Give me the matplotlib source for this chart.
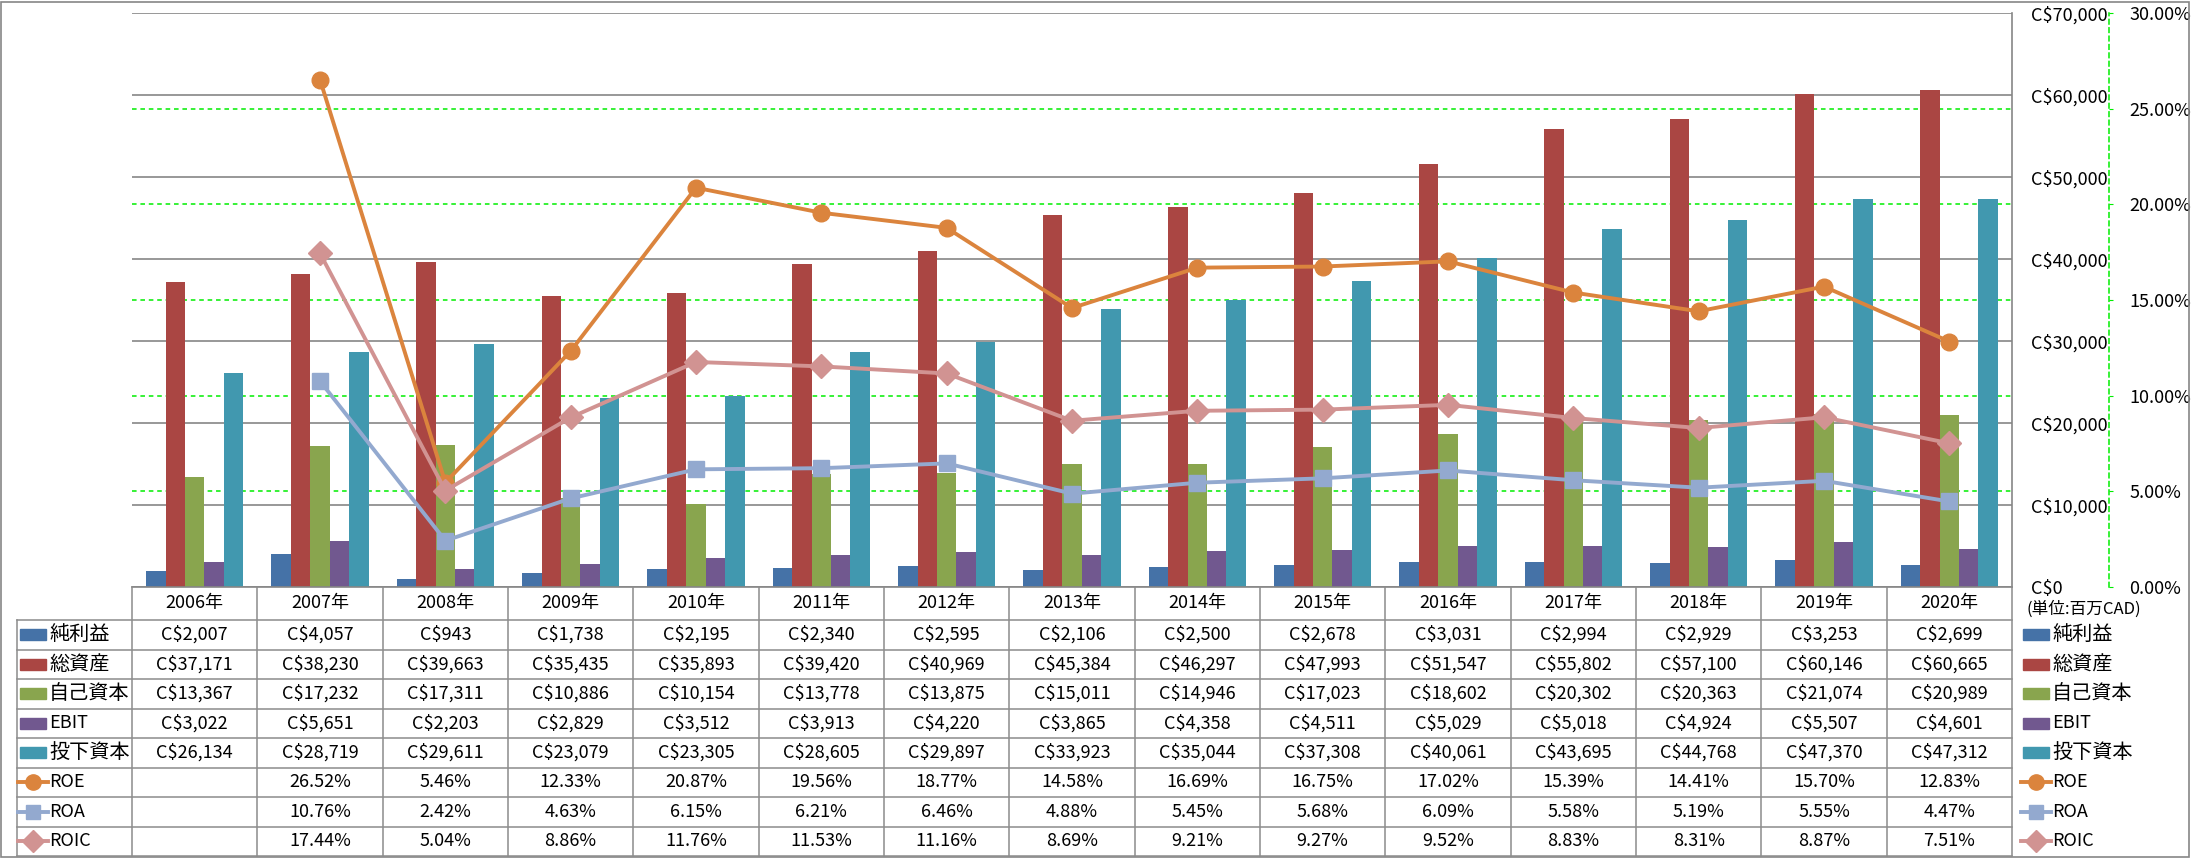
import matplotlib
matplotlib.use("Agg")
import matplotlib.pyplot as plt
import numpy as np
from matplotlib.lines import Line2D
from matplotlib.patches import Rectangle

plt.rcParams['font.family'] = ['Noto Sans CJK JP', 'DejaVu Sans']

# data (百万CAD)
years = ["2006年", "2007年", "2008年", "2009年", "2010年", "2011年", "2012年", "2013年",
         "2014年", "2015年", "2016年", "2017年", "2018年", "2019年", "2020年"]
net_income = [2007, 4057, 943, 1738, 2195, 2340, 2595, 2106, 2500, 2678, 3031, 2994, 2929, 3253, 2699]
total_assets = [37171, 38230, 39663, 35435, 35893, 39420, 40969, 45384, 46297, 47993, 51547, 55802, 57100, 60146, 60665]
equity = [13367, 17232, 17311, 10886, 10154, 13778, 13875, 15011, 14946, 17023, 18602, 20302, 20363, 21074, 20989]
ebit = [3022, 5651, 2203, 2829, 3512, 3913, 4220, 3865, 4358, 4511, 5029, 5018, 4924, 5507, 4601]
invested = [26134, 28719, 29611, 23079, 23305, 28605, 29897, 33923, 35044, 37308, 40061, 43695, 44768, 47370, 47312]
roe = [np.nan, 26.52, 5.46, 12.33, 20.87, 19.56, 18.77, 14.58, 16.69, 16.75, 17.02, 15.39, 14.41, 15.70, 12.83]
roa = [np.nan, 10.76, 2.42, 4.63, 6.15, 6.21, 6.46, 4.88, 5.45, 5.68, 6.09, 5.58, 5.19, 5.55, 4.47]
roic = [np.nan, 17.44, 5.04, 8.86, 11.76, 11.53, 11.16, 8.69, 9.21, 9.27, 9.52, 8.83, 8.31, 8.87, 7.51]

bar_names = ["純利益", "総資産", "自己資本", "EBIT", "投下資本"]
bar_colors = ["#4572A7", "#AA4643", "#89A54E", "#71588F", "#4198AF"]
line_names = ["ROE", "ROA", "ROIC"]
line_colors = ["#DB843D", "#93A9CF", "#D19392"]
line_markers = ["o", "s", "D"]
line_ms = [12, 11, 12]

W, H = 2191, 858
fig = plt.figure(figsize=(W / 100, H / 100), dpi=100)


def fx(px):
    return px / W


def fy(py):
    return 1 - py / H


left, right, top, bottom = 132, 2012, 13, 587
ax = fig.add_axes([fx(left), fy(bottom), fx(right - left), (bottom - top) / H])
ax2 = ax.twinx()

x = np.arange(len(years))
ax.set_xlim(-0.5, len(years) - 0.5)
ax.set_ylim(0, 70000)

bw = 0.155
bar_series = [net_income, total_assets, equity, ebit, invested]
for k, (vals, c) in enumerate(zip(bar_series, bar_colors)):
    ax.bar(x + (k - 2) * bw, vals, width=bw, color=c, zorder=2)

ax.yaxis.tick_right()
ax.set_yticks(range(0, 70001, 10000))
ax.set_yticklabels([f"C${v:,}" for v in range(0, 70001, 10000)])
ax.tick_params(axis='y', length=0, pad=13.5, labelsize=13)
ax.set_xticks([])
ax.yaxis.grid(True, color='#868686', lw=1.2, zorder=0)
ax.set_axisbelow(True)
for s in ['left', 'top']:
    ax.spines[s].set_visible(False)
for s in ['right', 'bottom']:
    ax.spines[s].set_color('#868686')
    ax.spines[s].set_linewidth(1.2)

pct_ticks = [0, 5, 10, 15, 20, 25, 30]
for p in pct_ticks[1:-1]:
    ax.axhline(p / 30 * 70000, color='#00EE00', lw=1.1, ls=(0, (3, 2.5)), zorder=1)

for s in ['left', 'top', 'bottom']:
    ax2.spines[s].set_visible(False)
ax2.spines['right'].set_position(('outward', 97 * 0.72))
ax2.spines['right'].set_color('#00EE00')
ax2.spines['right'].set_linestyle((0, (3, 2.5)))
ax2.spines['right'].set_linewidth(1.1)
ax2.set_ylim(0, 30)
ax2.set_yticks(pct_ticks)
ax2.set_yticklabels([f"{p:.2f}%" for p in pct_ticks])
ax2.tick_params(axis='y', length=3, color='#00EE00', pad=11.5, labelsize=13)

line_series = [roe, roa, roic]
for vals, c, m, ms in zip(line_series, line_colors, line_markers, line_ms):
    ax2.plot(x, vals, color=c, lw=2.8, marker=m, ms=ms, zorder=3)

# data table below the chart
grid_c = '#8C8C8C'
col_w = (right - left) / len(years)
row_top = 620
row_h = (856 - row_top) / 8


def hline(x0, x1, y):
    fig.add_artist(Line2D([fx(x0), fx(x1)], [fy(y), fy(y)], color=grid_c, lw=1.1))


def vline(xp, y0, y1):
    fig.add_artist(Line2D([fx(xp), fx(xp)], [fy(y0), fy(y1)], color=grid_c, lw=1.1))


for r in range(9):
    hline(17, right, row_top + r * row_h)
vline(17, row_top, 856)
for c in range(len(years) + 1):
    vline(left + c * col_w, bottom, 856)

for i, yr in enumerate(years):
    fig.text(fx(left + (i + 0.5) * col_w), fy(603), yr, fontsize=13, ha='center', va='center')

row_texts = [[f"C${v:,}" for v in vals] for vals in bar_series]
row_texts += [["" if np.isnan(v) else f"{v:.2f}%" for v in vals] for vals in line_series]
for r, texts in enumerate(row_texts):
    yc = row_top + (r + 0.5) * row_h
    for i, t in enumerate(texts):
        fig.text(fx(left + (i + 0.5) * col_w), fy(yc), t, fontsize=13, ha='center', va='center')


def legend_entry(xp, yc, r):
    if r < 5:
        fig.add_artist(Rectangle((fx(xp), fy(yc + 5.5)), fx(26), 11 / H,
                                 color=bar_colors[r], transform=fig.transFigure))
        label = bar_names[r]
    else:
        j = r - 5
        fig.add_artist(Line2D([fx(xp - 2), fx(xp + 28)], [fy(yc), fy(yc)], color=line_colors[j], lw=2.8))
        fig.add_artist(Line2D([fx(xp + 13)], [fy(yc)], color=line_colors[j], marker=line_markers[j],
                              ms=line_ms[j] - 1, lw=0))
        label = line_names[j]
    size = 13 if label.isascii() else 14.5
    fig.text(fx(xp + 29), fy(yc), label, fontsize=size, ha='left', va='center')


for r in range(8):
    yc = row_top + (r + 0.5) * row_h
    legend_entry(20, yc, r)
    legend_entry(2023, yc, r)

fig.text(fx(2026), fy(609), "(単位:百万CAD)", fontsize=12, ha='left', va='center')

fig.add_artist(Rectangle((fx(1), fy(857)), fx(2188), 855 / H, fill=False, edgecolor='#868686',
                         lw=1.2, transform=fig.transFigure))

fig.savefig("out.png", dpi=100)
